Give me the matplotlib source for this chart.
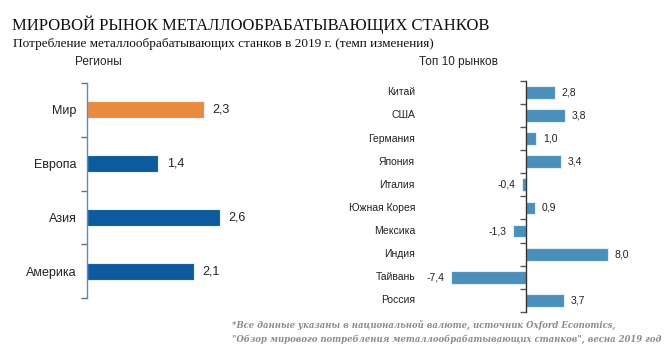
import matplotlib
matplotlib.use("Agg")
import matplotlib.pyplot as plt
import matplotlib.transforms as mtransforms
from matplotlib.ticker import FixedLocator, NullFormatter

# ---- data ----
regions = ["Мир", "Европа", "Азия", "Америка"]
region_values = [2.3, 1.4, 2.6, 2.1]
markets = ["Китай", "США", "Германия", "Япония", "Италия", "Южная Корея",
           "Мексика", "Индия", "Тайвань", "Россия"]
market_values = [2.8, 3.8, 1.0, 3.4, -0.4, 0.9, -1.3, 8.0, -7.4, 3.7]

title = "МИРОВОЙ РЫНОК МЕТАЛЛООБРАБАТЫВАЮЩИХ СТАНКОВ"
subtitle = "Потребление металлообрабатывающих станков в 2019 г. (темп изменения)"
left_title = "Регионы"
right_title = "Топ 10 рынков"
footnote1 = "*Все данные указаны в национальной валюте, источник Oxford Economics,"
footnote2 = "\"Обзор мирового потребления металлообрабатывающих станков\", весна 2019 год"

W, H = 668, 357
fig = plt.figure(figsize=(W / 100, H / 100), dpi=100)
fig.patch.set_facecolor("white")

def fx(px):
    return px / W

def fy(py):
    return 1 - py / H

def fmt(v):
    return f"{v:.1f}".replace(".", ",")

sans = "Liberation Sans"
serif = "Liberation Serif"

# ---- left chart ----
axL = fig.add_axes([fx(87), fy(298), fx(300) - fx(87), fy(83) - fy(298)])
colorsL = ["#E98B3F"] + ["#0D5A9C"] * (len(regions) - 1)
yL = list(range(len(regions)))
axL.barh(yL, region_values, height=0.32, color=colorsL,
         edgecolor="#EAF1F8", linewidth=0.8)
axL.set_ylim(len(regions) - 0.5, -0.5)
axL.set_xlim(0, 213 / 51)
for s in ["top", "right", "bottom"]:
    axL.spines[s].set_visible(False)
axL.spines["left"].set_color("#5B8AC4")
axL.spines["left"].set_linewidth(1.0)
axL.set_xticks([])
axL.set_yticks(yL)
axL.set_yticklabels(regions, fontfamily=sans, fontsize=9, color="#222222")
axL.tick_params(axis="y", which="major", length=0, pad=7.5)
axL.yaxis.set_minor_locator(FixedLocator([i - 0.5 for i in range(len(regions) + 1)]))
axL.yaxis.set_minor_formatter(NullFormatter())
axL.tick_params(axis="y", which="minor", length=4, width=1.0, color="#5B7390",
                direction="out")
for y, v in zip(yL, region_values):
    axL.annotate(fmt(v), (v, y), xytext=(6, 0), textcoords="offset points",
                 ha="left", va="center", fontfamily=sans, fontsize=9,
                 color="#222222")

# ---- right chart ----
axR = fig.add_axes([fx(420), fy(312), fx(660) - fx(420), fy(80.7) - fy(312)])
yR = list(range(len(markets)))
axR.barh(yR, market_values, height=0.55, color="#4B8FBA",
         edgecolor="#E3EEF6", linewidth=0.8)
axR.set_ylim(len(markets) - 0.5, -0.5)
axR.set_xlim(-106 / 10.2, 134 / 10.2)
for s in ["top", "right", "bottom"]:
    axR.spines[s].set_visible(False)
axR.spines["left"].set_position(("data", 0))
axR.spines["left"].set_color("#333333")
axR.spines["left"].set_linewidth(1.0)
axR.set_xticks([])
axR.set_yticks([])
axR.yaxis.set_minor_locator(FixedLocator([i - 0.5 for i in range(len(markets) + 1)]))
axR.yaxis.set_minor_formatter(NullFormatter())
axR.tick_params(axis="y", which="minor", length=4, width=1.0, color="#555555",
                direction="out")
trans = mtransforms.blended_transform_factory(fig.transFigure, axR.transData)
for y, name in zip(yR, markets):
    axR.text(fx(415), y, name, transform=trans, ha="right", va="center",
             fontfamily=sans, fontsize=7.5, color="#222222")
for y, v in zip(yR, market_values):
    if v >= 0:
        axR.annotate(fmt(v), (v, y), xytext=(5, 0), textcoords="offset points",
                     ha="left", va="center", fontfamily=sans, fontsize=7.5,
                     color="#222222")
    else:
        axR.annotate(fmt(v), (v, y), xytext=(-4.5, 0), textcoords="offset points",
                     ha="right", va="center", fontfamily=sans, fontsize=7.5,
                     color="#222222")

# ---- texts ----
fig.text(fx(12), fy(30), title, fontfamily=serif, fontsize=12,
         color="#111111", ha="left", va="baseline")
fig.text(fx(13), fy(46.5), subtitle, fontfamily=serif, fontsize=9.5,
         color="#111111", ha="left", va="baseline")
fig.text(fx(98), fy(62), left_title, fontfamily=sans, fontsize=8.5,
         color="#222222", ha="center", va="center")
fig.text(fx(458), fy(62), right_title, fontfamily=sans, fontsize=8.5,
         color="#222222", ha="center", va="center")
fig.text(fx(232), fy(325), footnote1, fontfamily="DejaVu Serif", fontsize=6.15,
         style="italic", fontweight="bold", color="#8C8C8C", ha="left", va="center")
fig.text(fx(232), fy(339), footnote2, fontfamily="DejaVu Serif", fontsize=6.15,
         style="italic", fontweight="bold", color="#8C8C8C", ha="left", va="center")

fig.savefig("out.png", dpi=100, facecolor="white")
